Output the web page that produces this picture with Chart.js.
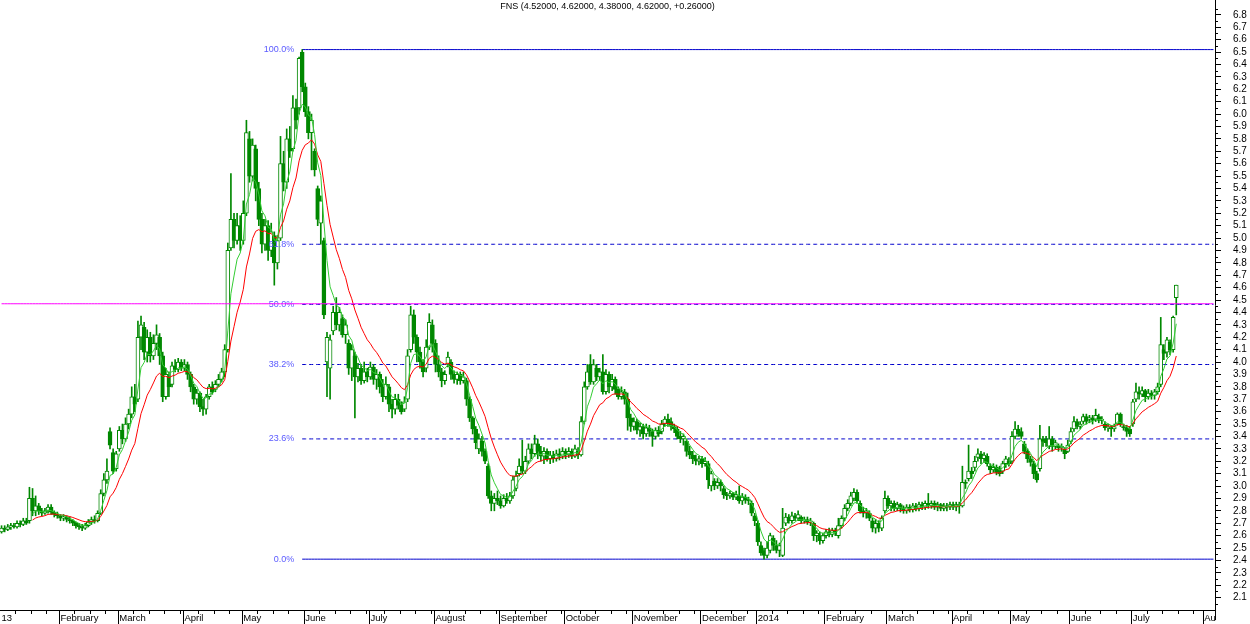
<!DOCTYPE html>
<html><head><meta charset="utf-8">
<script src="https://cdn.jsdelivr.net/npm/chart.js@4.4.1/dist/chart.umd.min.js"></script>
<style>html,body{margin:0;padding:0;background:#fff;overflow:hidden}</style>
</head><body>
<canvas id="c" width="1250" height="624"></canvas>
<script>
const ticker = 'FNS';
const monthNames = ['13','February','March','April','May','June','July','August','September','October','November','December','2014','February','March','April','May','June','July','Au'];
const monthDays  = [19,19,21,19,20,21,21,21,21,22,22,18,22,20,21,19,19,20,23,4];

const opens = [
2.63,2.66,2.65,2.67,2.68,2.67,2.70,2.69,2.72,2.72,
2.90,2.80,2.84,2.80,2.78,2.80,2.83,2.79,2.77,2.76,
2.74,2.75,2.73,2.72,2.70,2.68,2.67,2.66,2.68,2.71,
2.73,2.72,2.78,2.94,3.05,3.44,3.27,3.14,3.30,3.45,
3.38,3.50,3.58,3.72,3.70,4.20,4.28,4.08,4.20,4.05,
4.15,4.20,4.05,3.72,3.88,3.82,3.97,3.94,4.00,3.95,
3.98,3.90,3.80,3.70,3.75,3.64,3.62,3.72,3.80,3.78,
3.82,3.86,3.92,4.10,4.92,5.15,4.98,5.10,4.98,5.20,
5.80,5.50,5.72,5.40,5.15,4.95,5.10,4.90,5.02,4.80,
5.00,5.60,5.45,5.80,5.72,6.05,6.05,6.50,6.22,6.02,
5.85,5.70,5.40,5.12,4.98,4.00,3.95,4.25,4.40,4.30,
4.35,4.22,4.15,3.95,4.05,3.88,3.95,3.85,3.92,3.88,
3.96,3.86,3.90,3.80,3.72,3.80,3.66,3.62,3.70,3.65,
3.62,3.70,4.10,4.38,4.20,4.08,4.00,3.95,4.12,4.30,
4.15,3.98,3.92,3.85,3.98,4.00,3.90,3.86,3.90,3.85,
3.85,3.70,3.55,3.46,3.30,3.36,3.28,3.16,2.92,2.86,
2.90,2.88,2.84,2.90,2.88,2.92,2.98,3.10,3.16,3.12,
3.20,3.30,3.26,3.34,3.28,3.24,3.28,3.22,3.25,3.22,
3.26,3.24,3.28,3.25,3.28,3.24,3.28,3.25,3.52,3.80,
3.98,3.84,3.95,3.88,3.92,3.76,3.90,3.80,3.86,3.78,
3.72,3.76,3.70,3.55,3.48,3.52,3.45,3.48,3.42,3.47,
3.44,3.40,3.45,3.44,3.50,3.54,3.52,3.48,3.46,3.40,
3.38,3.36,3.28,3.25,3.22,3.20,3.22,3.18,3.18,3.00,
3.04,3.00,3.03,2.98,2.93,2.92,2.94,2.91,2.92,2.88,
2.91,2.89,2.86,2.76,2.70,2.52,2.48,2.44,2.48,2.58,
2.52,2.48,2.44,2.70,2.75,2.72,2.76,2.74,2.75,2.72,
2.73,2.71,2.70,2.60,2.60,2.56,2.60,2.63,2.61,2.64,
2.60,2.68,2.74,2.82,2.86,2.90,2.95,2.86,2.80,2.78,
2.78,2.72,2.66,2.70,2.66,2.80,2.90,2.84,2.86,2.82,
2.85,2.82,2.80,2.83,2.81,2.84,2.82,2.85,2.83,2.86,
2.84,2.86,2.83,2.85,2.82,2.84,2.83,2.85,2.83,2.85,
2.84,3.03,3.06,3.12,3.15,3.23,3.26,3.22,3.24,3.16,
3.13,3.15,3.14,3.12,3.18,3.20,3.20,3.40,3.46,3.44,
3.34,3.28,3.22,3.18,3.10,3.14,3.38,3.38,3.32,3.38,
3.32,3.32,3.31,3.30,3.28,3.36,3.46,3.52,3.48,3.52,
3.56,3.54,3.55,3.54,3.56,3.53,3.50,3.47,3.47,3.46,
3.50,3.58,3.48,3.47,3.46,3.50,3.70,3.76,3.74,3.77,
3.72,3.75,3.73,3.76,3.82,4.10,4.08,4.16,4.10,4.52];

const highs = [
2.68,2.68,2.69,2.70,2.70,2.72,2.72,2.74,2.74,2.99,
2.98,2.92,2.86,2.82,2.82,2.85,2.85,2.80,2.79,2.77,
2.77,2.76,2.75,2.73,2.71,2.70,2.69,2.70,2.73,2.75,
2.76,2.80,2.97,3.10,3.22,3.47,3.30,3.28,3.48,3.50,
3.55,3.62,3.80,3.82,4.33,4.37,4.32,4.26,4.24,4.22,
4.30,4.23,4.08,3.95,3.92,4.00,4.02,4.03,4.02,4.02,
4.00,3.92,3.82,3.78,3.76,3.70,3.74,3.82,3.84,3.85,
3.90,3.95,4.14,4.96,5.52,5.20,5.20,5.18,5.30,5.95,
5.86,5.80,5.75,5.45,5.20,5.15,5.14,5.12,5.05,5.02,
5.82,5.70,5.88,5.90,6.15,6.12,6.46,6.52,6.25,6.06,
6.00,5.72,5.42,5.34,5.00,4.24,4.22,4.45,4.52,4.44,
4.38,4.34,4.18,4.14,4.08,3.99,3.98,4.00,3.95,4.00,
3.98,3.94,3.92,3.86,3.88,3.82,3.70,3.74,3.74,3.68,
3.72,4.10,4.45,4.42,4.22,4.12,4.02,4.18,4.39,4.34,
4.18,4.05,3.95,3.93,4.08,4.02,3.93,3.92,3.92,3.92,
3.87,3.72,3.56,3.48,3.42,3.40,3.30,3.18,2.96,2.94,
2.96,2.92,2.93,2.94,2.95,3.08,3.12,3.22,3.37,3.24,
3.34,3.34,3.41,3.38,3.32,3.31,3.30,3.28,3.28,3.29,
3.30,3.31,3.30,3.31,3.30,3.33,3.31,3.56,3.84,3.98,
4.06,4.02,3.98,3.95,4.06,3.94,3.92,3.90,3.88,3.80,
3.80,3.78,3.75,3.58,3.55,3.54,3.51,3.50,3.50,3.49,
3.46,3.47,3.48,3.53,3.56,3.58,3.55,3.50,3.48,3.44,
3.42,3.38,3.32,3.28,3.25,3.24,3.24,3.23,3.20,3.12,
3.06,3.06,3.05,3.00,2.95,2.96,2.95,2.96,3.00,2.94,
2.93,2.91,2.88,2.78,2.72,2.55,2.50,2.55,2.62,2.60,
2.56,2.54,2.82,2.78,2.77,2.79,2.78,2.80,2.76,2.75,
2.75,2.74,2.71,2.64,2.63,2.62,2.65,2.66,2.66,2.66,
2.74,2.76,2.85,2.89,2.95,2.98,2.97,2.88,2.83,2.82,
2.80,2.74,2.73,2.72,2.76,2.96,2.92,2.88,2.88,2.87,
2.86,2.84,2.85,2.85,2.86,2.86,2.87,2.87,2.88,2.94,
2.88,2.88,2.87,2.86,2.86,2.86,2.87,2.87,2.87,2.87,
3.16,3.05,3.33,3.15,3.24,3.30,3.28,3.27,3.26,3.18,
3.18,3.17,3.16,3.20,3.24,3.23,3.44,3.52,3.49,3.47,
3.36,3.30,3.24,3.20,3.12,3.49,3.40,3.40,3.48,3.40,
3.37,3.34,3.34,3.31,3.37,3.47,3.56,3.54,3.52,3.58,
3.58,3.57,3.57,3.62,3.58,3.56,3.52,3.50,3.49,3.50,
3.59,3.59,3.50,3.49,3.48,3.70,3.83,3.80,3.80,3.78,
3.78,3.77,3.78,3.83,4.36,4.14,4.20,4.18,4.37,4.62];

const lows = [
2.62,2.63,2.64,2.65,2.66,2.66,2.67,2.68,2.69,2.70,
2.76,2.76,2.77,2.76,2.77,2.78,2.77,2.75,2.74,2.72,
2.72,2.71,2.70,2.68,2.66,2.65,2.64,2.65,2.67,2.69,
2.70,2.71,2.77,2.92,3.02,3.30,3.10,3.12,3.28,3.34,
3.36,3.46,3.55,3.60,3.68,4.10,4.02,4.00,4.00,4.02,
4.10,3.98,3.68,3.70,3.72,3.80,3.92,3.92,3.93,3.93,
3.86,3.76,3.66,3.66,3.60,3.57,3.58,3.70,3.74,3.76,
3.80,3.84,3.88,4.08,4.90,4.92,4.95,4.90,4.95,5.18,
5.45,5.46,5.30,5.10,4.88,4.90,4.82,4.85,4.62,4.75,
4.98,5.38,5.40,5.65,5.70,5.88,6.00,6.18,5.98,5.80,
5.55,5.50,5.10,4.95,4.35,3.72,3.70,4.22,4.26,4.25,
4.20,4.15,3.90,3.85,3.55,3.84,3.82,3.83,3.84,3.86,
3.82,3.78,3.75,3.68,3.70,3.60,3.55,3.58,3.62,3.58,
3.60,3.68,4.08,4.15,4.00,3.95,3.88,3.92,4.10,4.08,
3.92,3.88,3.80,3.82,3.96,3.86,3.83,3.82,3.82,3.83,
3.65,3.52,3.42,3.30,3.26,3.24,3.18,2.90,2.80,2.80,
2.85,2.82,2.83,2.86,2.86,2.90,2.96,3.08,3.10,3.10,
3.18,3.22,3.24,3.22,3.20,3.18,3.20,3.18,3.19,3.20,
3.21,3.22,3.22,3.23,3.22,3.23,3.22,3.24,3.50,3.78,
3.82,3.82,3.85,3.85,3.74,3.74,3.75,3.77,3.74,3.70,
3.70,3.66,3.45,3.44,3.45,3.42,3.40,3.38,3.40,3.40,
3.32,3.38,3.40,3.42,3.48,3.48,3.45,3.43,3.38,3.35,
3.33,3.24,3.22,3.18,3.17,3.17,3.15,3.16,2.98,2.96,
2.97,2.98,2.96,2.90,2.89,2.90,2.89,2.89,2.86,2.85,
2.86,2.85,2.76,2.68,2.52,2.44,2.41,2.42,2.46,2.48,
2.46,2.43,2.43,2.68,2.70,2.70,2.72,2.72,2.70,2.70,
2.69,2.68,2.56,2.55,2.53,2.54,2.58,2.59,2.59,2.60,
2.58,2.66,2.72,2.80,2.84,2.88,2.86,2.78,2.75,2.74,
2.72,2.63,2.62,2.63,2.64,2.78,2.82,2.80,2.80,2.80,
2.79,2.78,2.78,2.79,2.79,2.80,2.80,2.81,2.81,2.82,
2.82,2.81,2.80,2.80,2.80,2.80,2.81,2.81,2.80,2.78,
2.83,2.98,3.04,3.06,3.12,3.20,3.18,3.19,3.16,3.10,
3.11,3.09,3.08,3.10,3.15,3.16,3.18,3.38,3.40,3.38,
3.26,3.19,3.16,3.06,3.03,3.12,3.32,3.32,3.30,3.28,
3.30,3.28,3.28,3.22,3.27,3.34,3.44,3.46,3.46,3.50,
3.50,3.51,3.50,3.52,3.51,3.50,3.45,3.44,3.40,3.44,
3.49,3.48,3.45,3.40,3.40,3.48,3.68,3.70,3.72,3.68,
3.70,3.70,3.70,3.74,3.80,4.02,4.04,4.06,4.08,4.38];

const closes = [
2.66,2.65,2.67,2.68,2.67,2.70,2.69,2.72,2.70,2.90,
2.80,2.84,2.80,2.78,2.80,2.83,2.79,2.77,2.76,2.74,
2.75,2.73,2.72,2.70,2.68,2.67,2.66,2.68,2.71,2.73,
2.72,2.78,2.94,3.05,3.12,3.33,3.12,3.26,3.45,3.38,
3.50,3.58,3.72,3.66,4.20,4.30,4.08,4.20,4.05,4.15,
4.22,4.05,3.72,3.90,3.80,3.97,3.94,4.00,3.95,3.98,
3.90,3.80,3.70,3.75,3.64,3.62,3.72,3.80,3.76,3.82,
3.86,3.92,4.10,4.90,5.15,4.98,5.10,4.98,5.20,5.85,
5.50,5.75,5.40,5.15,4.95,5.10,4.90,5.05,4.80,4.98,
5.60,5.45,5.80,5.70,6.05,5.95,6.45,6.22,6.02,5.85,
5.95,5.55,5.15,5.30,4.38,4.20,4.18,4.40,4.30,4.40,
4.22,4.30,3.95,4.10,3.88,3.95,3.85,3.92,3.88,3.96,
3.86,3.90,3.80,3.72,3.82,3.66,3.62,3.70,3.65,3.60,
3.68,4.05,4.38,4.20,4.08,4.00,3.92,4.12,4.32,4.15,
3.98,3.92,3.85,3.90,4.04,3.90,3.86,3.90,3.85,3.88,
3.70,3.55,3.46,3.35,3.38,3.28,3.20,2.92,2.86,2.90,
2.88,2.84,2.90,2.88,2.92,3.05,3.08,3.16,3.12,3.20,
3.30,3.26,3.34,3.28,3.24,3.28,3.22,3.25,3.22,3.26,
3.24,3.28,3.25,3.28,3.24,3.30,3.25,3.52,3.80,3.92,
3.84,3.98,3.88,3.92,3.76,3.90,3.80,3.86,3.78,3.72,
3.76,3.70,3.55,3.48,3.52,3.45,3.48,3.42,3.47,3.44,
3.40,3.45,3.42,3.50,3.54,3.50,3.48,3.46,3.40,3.38,
3.40,3.28,3.25,3.22,3.20,3.22,3.18,3.20,3.05,3.10,
3.00,3.03,3.00,2.93,2.92,2.94,2.91,2.93,2.88,2.91,
2.89,2.88,2.78,2.72,2.55,2.46,2.44,2.50,2.60,2.52,
2.48,2.52,2.66,2.75,2.72,2.76,2.74,2.77,2.72,2.73,
2.71,2.72,2.60,2.62,2.56,2.60,2.63,2.61,2.64,2.62,
2.68,2.74,2.82,2.86,2.92,2.95,2.88,2.80,2.78,2.80,
2.74,2.66,2.70,2.66,2.74,2.90,2.84,2.86,2.82,2.85,
2.82,2.80,2.83,2.81,2.84,2.82,2.85,2.83,2.86,2.84,
2.86,2.83,2.85,2.82,2.84,2.83,2.85,2.83,2.85,2.84,
3.03,3.02,3.12,3.10,3.20,3.26,3.22,3.25,3.18,3.13,
3.15,3.11,3.10,3.18,3.22,3.18,3.40,3.46,3.42,3.40,
3.28,3.22,3.19,3.10,3.05,3.38,3.36,3.35,3.38,3.32,
3.35,3.31,3.32,3.26,3.33,3.44,3.52,3.48,3.50,3.56,
3.52,3.55,3.53,3.57,3.53,3.54,3.47,3.48,3.46,3.48,
3.58,3.50,3.47,3.44,3.42,3.68,3.76,3.74,3.77,3.72,
3.75,3.73,3.76,3.80,4.14,4.07,4.18,4.10,4.36,4.62];

const yTickValues = [2.1,2.2,2.3,2.4,2.5,2.6,2.7,2.8,2.9,3.0,3.1,3.2,3.3,3.4,3.5,3.6,3.7,3.8,3.9,4.0,
  4.1,4.2,4.3,4.4,4.5,4.6,4.7,4.8,4.9,5.0,5.1,5.2,5.3,5.4,5.5,5.6,5.7,5.8,5.9,6.0,6.1,6.2,6.3,6.4,6.5,6.6,6.7,6.8];
const fibRatios = [0, 0.236, 0.382, 0.5, 0.618, 1];
const fibLabels = ['0.0%','23.6%','38.2%','50.0%','61.8%','100.0%'];
const horizLineLevel = 4.47;
const fastPeriod = 5, slowPeriod = 13, maFirstIndex = 10;

const GREEN = '#008800';
const FONT = '"Liberation Sans", Arial, sans-serif';

// ---- category labels built from months ----
const labels = [];
const monthStartLabel = {};
const monthStartIdx = [];
monthNames.forEach((m, k) => {
  for (let d = 0; d < monthDays[k]; d++) {
    if (d === 0) { monthStartLabel[labels.length] = m; monthStartIdx.push(labels.length); }
    labels.push(k + '-' + d);
  }
});

const bodyData = opens.map((o, i) => [o, closes[i]]);
const wickData = lows.map((l, i) => [l, highs[i]]);
const bodyFill = opens.map((o, i) => closes[i] > o ? '#ffffff' : GREEN);

function ema(values, n) {
  const a = 2 / (n + 1); let e = values[0];
  return values.map((v, i) => { e = i === 0 ? v : e + a * (v - e); return i < maFirstIndex ? null : e; });
}
const fastMA = ema(closes, fastPeriod);
const slowMA = ema(closes, slowPeriod);

const hi = Math.max(...highs), lo = Math.min(...lows);
const iHigh = highs.indexOf(hi);
const fibLevels = fibRatios.map(r => lo + r * (hi - lo));

const fibDatasets = fibRatios.map((r, k) => ({
  type: 'line', data: labels.map((_, i) => i >= iHigh ? fibLevels[k] : null),
  borderColor: '#0000cc', borderWidth: 1, borderDash: (r === 0 || r === 1) ? [] : [4, 3],
  pointRadius: 0, fill: false, order: 4
}));

const last = closes.length - 1;
const chg = closes[last] - closes[last - 1];
const titleText = ticker + ' (' + opens[last].toFixed(5) + ', ' + highs[last].toFixed(5) + ', ' + lows[last].toFixed(5) + ', ' +
  closes[last].toFixed(5) + ', ' + (chg >= 0 ? '+' : '') + chg.toFixed(5) + ')';

const BODY_INDEX = 2;
const decor = {
  id: 'decor',
  afterDatasetDraw(chart, args) {
    if (args.index !== BODY_INDEX) return;
    const {ctx, scales: {x, y}} = chart;
    ctx.save();
    ctx.font = '9px ' + FONT;
    ctx.fillStyle = '#5a5aff'; ctx.textAlign = 'right'; ctx.textBaseline = 'middle';
    const lx = x.getPixelForValue(iHigh) - 8;
    fibLevels.forEach((lv, k) => ctx.fillText(fibLabels[k], lx, y.getPixelForValue(lv)));
    ctx.restore();
  },
  afterDraw(chart) {
    const {ctx, chartArea: a, scales: {x, y}} = chart;
    ctx.save();
    ctx.strokeStyle = '#000'; ctx.lineWidth = 1;
    ctx.beginPath();
    monthStartIdx.forEach((s, k) => {
      if (s > 0) {
        const px = Math.round(x.getPixelForValue(s - 0.5)) + 0.5;
        ctx.moveTo(px, a.bottom); ctx.lineTo(px, a.bottom + 14);
      }
      for (let w = 5; w < monthDays[k]; w += 5) {
        const wx = Math.round(x.getPixelForValue(s + w - 0.5)) + 0.5;
        ctx.moveTo(wx, a.bottom); ctx.lineTo(wx, a.bottom + 4);
      }
    });
    yTickValues.concat([yTickValues[yTickValues.length - 1] + 0.1]).forEach(v => {
      const py = Math.round(y.getPixelForValue(v - 0.05)) + 0.5;
      ctx.moveTo(a.right, py); ctx.lineTo(a.right + 3, py);
    });
    ctx.moveTo(a.right + 0.5, a.bottom); ctx.lineTo(a.right + 0.5, a.bottom + 10);
    ctx.stroke();
    ctx.font = '9px ' + FONT;
    ctx.fillStyle = '#000'; ctx.textAlign = 'center'; ctx.textBaseline = 'middle';
    ctx.fillText(titleText, (a.left + a.right) / 2, 7);
    ctx.restore();
  }
};

new Chart(document.getElementById('c'), {
  type: 'bar',
  data: {
    labels,
    datasets: [
      { type: 'line', data: fastMA, borderColor: '#33cc33', borderWidth: 1, pointRadius: 0, fill: false, order: 0 },
      { type: 'line', data: slowMA, borderColor: '#ff0000', borderWidth: 1, pointRadius: 0, fill: false, order: 0 },
      { type: 'bar', data: bodyData, backgroundColor: bodyFill, borderColor: GREEN, borderWidth: 1,
        borderSkipped: false, barThickness: 4, grouped: false, order: 1 },
      { type: 'bar', data: wickData, backgroundColor: GREEN, borderWidth: 0, barThickness: 1, grouped: false, order: 2 },
      { type: 'line', data: labels.map(() => horizLineLevel), borderColor: '#ff00ff', borderWidth: 1, pointRadius: 0, fill: false, order: -1 },
      ...fibDatasets
    ]
  },
  options: {
    responsive: false, animation: false,
    layout: { padding: 0 },
    plugins: { legend: { display: false }, tooltip: { enabled: false }, title: { display: false } },
    scales: {
      x: {
        type: 'category', offset: true,
        grid: { display: false, drawTicks: false },
        border: { display: true, color: '#000', width: 1 },
        ticks: {
          autoSkip: false, maxRotation: 0, minRotation: 0, align: 'start', padding: 3,
          color: '#000', font: { family: FONT, size: 9.5 },
          callback: (v, i) => monthStartLabel[i] || ''
        },
        afterFit: s => { s.height = 14; s.paddingLeft = 0; s.paddingRight = 0; }
      },
      y: {
        position: 'right', min: 2.0, max: 6.92,
        grid: { display: true, drawOnChartArea: false, drawTicks: true, tickLength: 6, color: '#000' },
        border: { display: true, color: '#000', width: 1 },
        ticks: { autoSkip: false, padding: 12, color: '#000', font: { family: FONT, size: 10 },
                 callback: v => Number(v).toFixed(1) },
        afterBuildTicks: s => { s.ticks = yTickValues.map(v => ({ value: v })); },
        afterFit: s => { s.width = 35; s.paddingTop = 0; s.paddingBottom = 0; }
      }
    }
  },
  plugins: [decor]
});
</script>
</body></html>
